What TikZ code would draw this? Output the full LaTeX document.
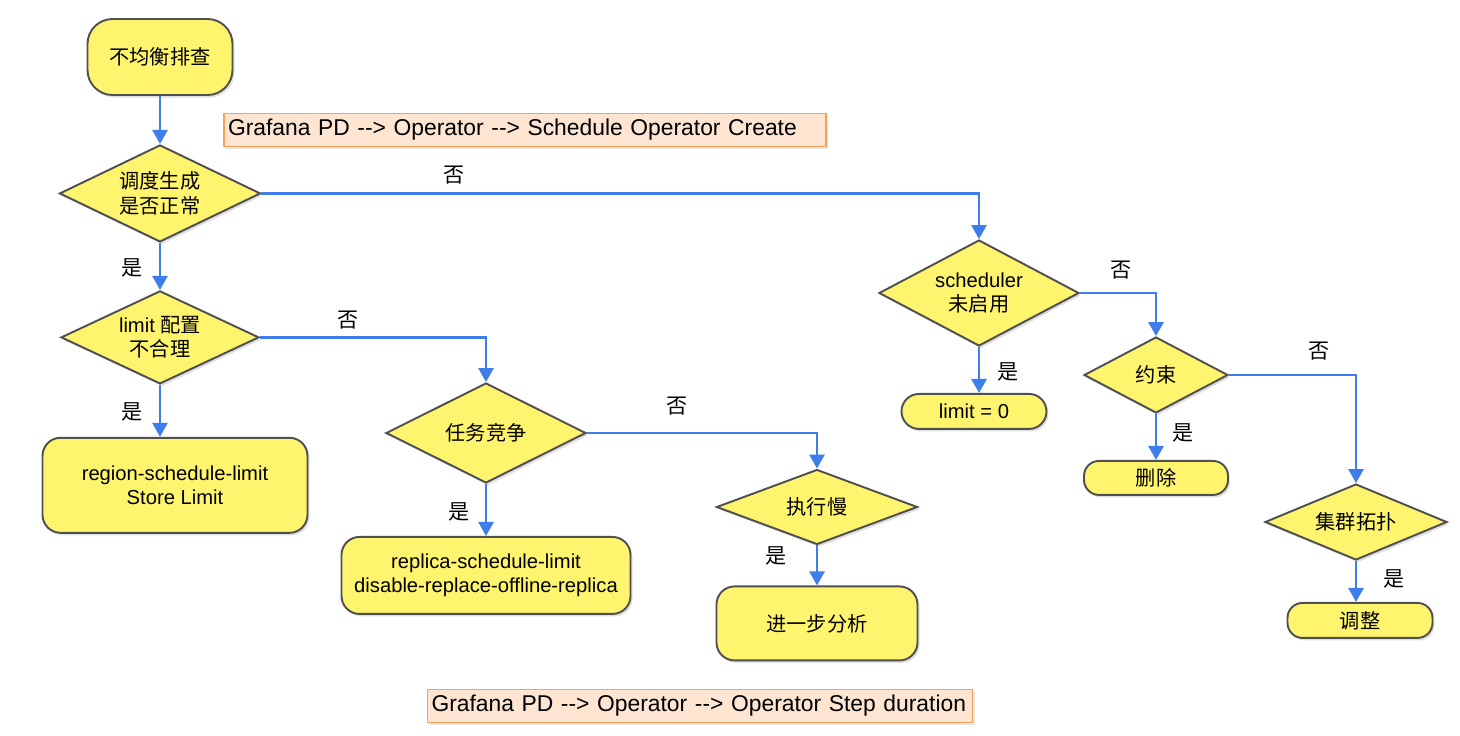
\documentclass[tikz,border=0pt]{standalone}
\usepackage{fontspec}
\setmainfont{Liberation Sans}
\newfontfamily\cjk{Noto Sans CJK SC}
\usepackage{tikz}
\usetikzlibrary{arrows.meta, positioning}
\usetikzlibrary{shapes.geometric, shadows}

\definecolor{boxyellow}{RGB}{255,244,110}
\definecolor{edgegray}{RGB}{80,80,80}
\definecolor{flowblue}{RGB}{62,126,234}
\definecolor{notefill}{RGB}{253,229,210}
\definecolor{noteline}{RGB}{246,162,90}

\begin{document}
\begin{tikzpicture}[
    >={Triangle[length=2.8mm, width=3mm]},
    font=\fontsize{11.5}{14}\selectfont,
    decision/.style={
        diamond,
        aspect=2,
        draw=edgegray,
        line width=1.1pt,
        fill=boxyellow,
        inner sep=1pt,
        align=center,
        drop shadow={opacity=0.25, shadow xshift=0.04cm, shadow yshift=-0.05cm}
    },
    action/.style={
        rectangle,
        rounded corners=0.36cm,
        draw=edgegray,
        line width=1.1pt,
        fill=boxyellow,
        align=center,
        drop shadow={opacity=0.25, shadow xshift=0.04cm, shadow yshift=-0.05cm}
    },
    note/.style={
        rectangle,
        draw=noteline,
        line width=0.9pt,
        fill=notefill,
        minimum height=0.66cm,
        inner xsep=0.08cm,
        inner ysep=2pt,
        align=left,
        font=\fontsize{13}{15}\selectfont,
        drop shadow={opacity=0.2, shadow xshift=0.04cm, shadow yshift=-0.05cm}
    },
    arrow/.style={
        ->,
        draw=flowblue,
        line width=1.6pt
    },
    answer/.style={
        font=\cjk\fontsize{12}{14}\selectfont,
        inner sep=1pt
    }
]
\useasboundingbox (0,0) rectangle (29.2,-14.72);

% Einstieg
\node[action, rounded corners=0.5cm, minimum width=2.9cm, minimum height=1.52cm] (start) at (3.2,-1.14) {\cjk 不均衡排查};

% Hinweise
\node[note, text width=11.88cm] (hint1) at (10.5,-2.6) {Grafana PD -{}-> Operator -{}-> Schedule Operator Create};
\node[note, text width=10.74cm] (hint2) at (14.0,-14.12) {Grafana PD -{}-> Operator -{}-> Operator Step duration};

% linke Spalte
\node[decision, minimum width=4.02cm, minimum height=1.94cm, below=0.96cm of start] (gen) {\cjk 调度生成\\\cjk 是否正常};
\node[decision, minimum width=3.96cm, minimum height=1.86cm, below=0.94cm of gen] (limit) {limit {\cjk 配置}\\\cjk 不合理};
\node[action, minimum width=5.3cm, minimum height=1.9cm, below=1.04cm of limit, xshift=0.3cm] (storelimit) {region-schedule-limit\\Store Limit};

% mittlere Spalte
\node[decision, minimum width=4.0cm, minimum height=2.0cm] (race) at (9.72,-8.66) {\cjk 任务竞争};
\node[action, minimum width=5.78cm, minimum height=1.54cm, below=1.04cm of race] (replica) {replica-schedule-limit\\disable-replace-offline-replica};
\node[decision, minimum width=4.02cm, minimum height=1.5cm] (slow) at (16.34,-10.14) {\cjk 执行慢};
\node[action, minimum width=4.02cm, minimum height=1.48cm, below=0.8cm of slow] (analyse) {\cjk 进一步分析};

% rechte Spalte
\node[decision, minimum width=4.0cm, minimum height=2.12cm] (sched) at (19.58,-5.86) {scheduler\\\cjk 未启用};
\node[action, rounded corners=0.35cm, minimum width=2.9cm, minimum height=0.7cm, inner sep=1pt, below=0.92cm of sched, xshift=-0.1cm] (limitzero) {limit = 0};
\node[decision, minimum width=2.88cm, minimum height=1.52cm] (rule) at (23.12,-7.5) {\cjk 约束};
\node[action, rounded corners=0.3cm, minimum width=2.88cm, minimum height=0.68cm, inner sep=1pt, below=0.92cm of rule] (remove) {\cjk 删除};
\node[decision, minimum width=3.64cm, minimum height=1.52cm] (topo) at (27.12,-10.44) {\cjk 集群拓扑};
\node[action, rounded corners=0.3cm, minimum width=2.9cm, minimum height=0.7cm, inner sep=1pt, below=0.82cm of topo, xshift=0.08cm] (adjust) {\cjk 调整};

% Pfeile: ja
\draw[arrow] (start) -- (gen);
\draw[arrow] (gen) -- node[answer, pos=0.53, left=0.28cm] (yes1) {是} (limit);
\draw[arrow] (limit.south) -- node[answer, pos=0.52, left=0.28cm] (yes2) {是} (limit.south |- storelimit.north);
\draw[arrow] (race) -- node[answer, pos=0.54, left=0.26cm] (yes3) {是} (replica);
\draw[arrow] (slow) -- node[answer, pos=0.27, left=0.54cm] (yes4) {是} (analyse);
\draw[arrow] (sched.south) -- node[answer, pos=0.54, right=0.3cm] (yes5) {是} (sched.south |- limitzero.north);
\draw[arrow] (rule) -- node[answer, pos=0.41, right=0.26cm] (yes6) {是} (remove);
\draw[arrow] (topo.south) -- node[answer, pos=0.44, right=0.48cm] (yes7) {是} (topo.south |- adjust.north);

% Pfeile: nein
\draw[arrow] (gen.east) -| node[answer, pos=0.134, above=0.12cm] (no1) {否} (sched.north);
\draw[arrow] (limit.east) -| node[answer, pos=0.195, above=0.1cm] (no2) {否} (race.north);
\draw[arrow] (race.east) -| node[answer, pos=0.195, above=0.3cm] (no3) {否} (slow.north);
\draw[arrow] (sched.east) -| node[answer, pos=0.27, above=0.22cm] (no4) {否} (rule.north);
\draw[arrow] (rule.east) -| node[answer, pos=0.355, above=0.24cm] (no5) {否} (topo.north);

\end{tikzpicture}
\end{document}
